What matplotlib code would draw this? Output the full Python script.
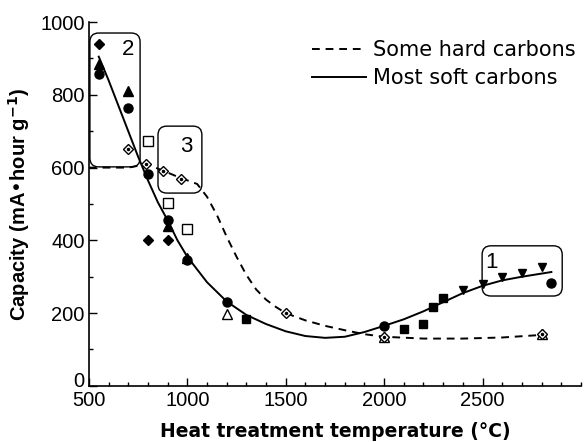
import matplotlib
matplotlib.use("Agg")
import matplotlib.pyplot as plt
from matplotlib.patches import FancyBboxPatch
from matplotlib.ticker import MultipleLocator
from matplotlib.transforms import ScaledTranslation

plt.rcParams['font.family'] = ['Liberation Sans', 'DejaVu Sans']

# ---- data ----
fdiam_x = [550, 800, 900]
fdiam_y = [940, 400, 400]
fcirc_x = [550, 700, 800, 900, 1000, 1200, 2000, 2850]
fcirc_y = [858, 765, 583, 455, 345, 230, 165, 283]
ftri_x = [550, 700, 900, 1000]
ftri_y = [885, 810, 440, 352]
fsq_x = [1300, 2100, 2200, 2250, 2300]
fsq_y = [185, 157, 170, 217, 242]
fdown_x = [2400, 2500, 2600, 2700, 2800]
fdown_y = [264, 280, 300, 310, 327]
osq_x = [800, 900, 1000]
osq_y = [673, 502, 430]
otri_x = [1200, 2000, 2800]
otri_y = [197, 135, 142]
odiam_x = [700, 790, 875, 970, 1500, 2000, 2800]
odiam_y = [652, 610, 590, 570, 200, 135, 142]

soft_x = [550, 600, 650, 700, 750, 800, 850, 900, 950, 1000, 1100, 1200, 1300,
          1400, 1500, 1600, 1700, 1800, 1900, 2000, 2100, 2200, 2300, 2400,
          2500, 2600, 2700, 2850]
soft_y = [905, 840, 770, 700, 630, 565, 505, 455, 400, 355, 285, 232, 195,
          170, 150, 137, 132, 135, 148, 165, 183, 205, 230, 255,
          275, 290, 300, 313]
hard_x = [500, 600, 700, 750, 800, 875, 950, 1000, 1050, 1100, 1150, 1200,
          1250, 1300, 1350, 1400, 1450, 1500, 1600, 1700, 1800, 1900, 2000,
          2200, 2400, 2600, 2800]
hard_y = [600, 600, 600, 605, 608, 592, 575, 565, 555, 520, 470, 410,
          355, 305, 265, 237, 217, 200, 180, 165, 153, 142, 135,
          130, 130, 133, 140]

legend_labels = ['Some hard carbons', 'Most soft carbons']

fig = plt.figure(figsize=(5.85, 4.42), dpi=100)
ax = fig.add_axes([0.152, 0.127, 0.841, 0.823])

l1, = ax.plot(hard_x, hard_y, color='black', lw=1.4, ls=(0, (4, 3)))
l2, = ax.plot(soft_x, soft_y, color='black', lw=1.4)

ms = 6.5
ax.plot(fdiam_x, fdiam_y, 'D', color='black', ms=ms - 1, ls='none')
ax.plot(fcirc_x, fcirc_y, 'o', color='black', ms=ms, ls='none')
ax.plot(ftri_x, ftri_y, '^', color='black', ms=ms, ls='none')
ax.plot(fsq_x, fsq_y, 's', color='black', ms=ms - 0.5, ls='none')
ax.plot(fdown_x, fdown_y, 'v', color='black', ms=ms - 0.5, ls='none')
ax.plot(osq_x, osq_y, 's', mfc='white', mec='black', mew=1, ms=ms, ls='none')
ax.plot(otri_x, otri_y, '^', mfc='white', mec='black', mew=1, ms=ms, ls='none')
ax.plot(odiam_x, odiam_y, 'D', mfc='white', mec='black', mew=1, ms=ms - 1.5, ls='none')
ax.plot(odiam_x, odiam_y, '.', color='black', ms=3, ls='none')

# rounded boxes
asp = (1000 / 364) / (2500 / 492)
for (x0, x1, y0, y1, lab, lx, ly) in [
        (505, 760, 602, 970, '2', 700, 925),
        (851, 1074, 530, 714, '3', 993, 657),
        (2498, 2905, 247, 385, '1', 2545, 340)]:
    p = FancyBboxPatch((x0, y0), x1 - x0, y1 - y0,
                       boxstyle='round,pad=0,rounding_size=45',
                       mutation_aspect=asp, fc='none', ec='black', lw=1.0,
                       transform=ax.transData, zorder=1)
    ax.add_patch(p)
    ax.text(lx, ly, lab, fontsize=16, ha='center', va='center')

ax.set_xlim(500, 3000)
ax.set_ylim(0, 1000)
ax.set_xticks([500, 1000, 1500, 2000, 2500])
ax.set_yticks([0, 200, 400, 600, 800, 1000])
ax.xaxis.set_minor_locator(MultipleLocator(100))
ax.yaxis.set_minor_locator(MultipleLocator(100))
ax.tick_params(which='both', direction='in', labelsize=14.5, width=1)
ax.tick_params(which='major', length=6)
ax.tick_params(which='minor', length=3)
ax.tick_params(axis='y', pad=3)
ax.tick_params(axis='x', pad=4)
for s in ['top', 'right']:
    ax.spines[s].set_visible(False)
for s in ['left', 'bottom']:
    ax.spines[s].set_linewidth(1.2)

fig.canvas.draw()
ylabs = ax.get_yticklabels()
ylabs[0].set_transform(ylabs[0].get_transform() + ScaledTranslation(0, 6 / 100, fig.dpi_scale_trans))

ax.set_xlabel('Heat treatment temperature (°C)', fontsize=13.5, fontweight='bold',
              labelpad=8, family=['DejaVu Sans'])
ax.set_ylabel('Capacity (mA•hour g$^{\\mathbf{-1}}$)', fontsize=14.5, fontweight='bold', labelpad=6)

ax.legend([l1, l2], legend_labels, loc='upper left',
          bbox_to_anchor=(312 / 585, 1 - 40 / 442), bbox_transform=fig.transFigure,
          frameon=False, prop={'family': 'DejaVu Sans', 'size': 15},
          handlelength=2.6, handletextpad=0.35,
          labelspacing=0.4, borderaxespad=0, borderpad=0)

fig.savefig('out.png', dpi=100)
